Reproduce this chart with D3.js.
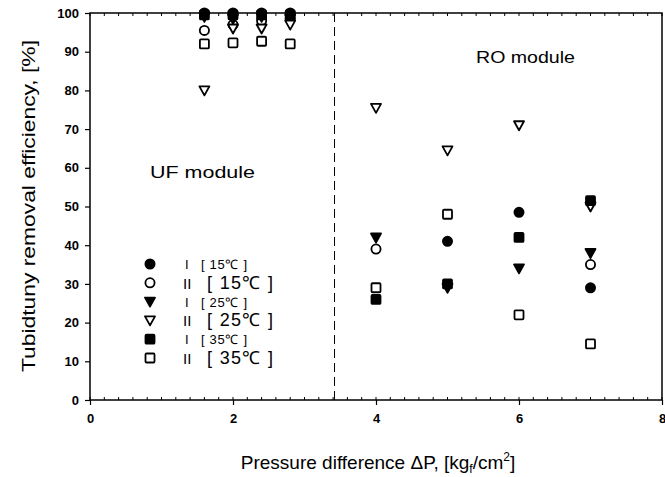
<!DOCTYPE html>
<html><head><meta charset="utf-8">
<script src="https://cdn.jsdelivr.net/npm/d3@7"></script>
<style>body{margin:0;background:#fff}svg{display:block}text{font-family:"Liberation Sans",Arial,sans-serif;fill:#000}</style>
</head><body><svg id="c" width="665" height="477"></svg>
<script>
const pressures = [1.6, 2.0, 2.4, 2.8, 4, 5, 6, 7];
const I15  = [100, 100, 100, 100, null, 41, 48.5, 29];
const II15 = [95.5, 97, 98, 98.5, 39, null, null, 35];
const I25  = [99, 98.5, 99, 98.5, 42, 29, 34, 38];
const II25 = [80, 96, 96, 97, 75.5, 64.5, 71, 50];
const I35  = [99.5, 99.5, 99.5, 99.5, 26, 30, 42, 51.5];
const II35 = [92, 92.3, 92.7, 92, 29, 48, 22, 14.5];
const seriesNames = ["I15","II15","I25","II25","I35","II35"];
const romans = ["I","II","I","II","I","II"];
const temps = ["15℃","15℃","25℃","25℃","35℃","35℃"];
const xTicks = [0,2,4,6,8];
const yTicks = [0,10,20,30,40,50,60,70,80,90,100];
const divider = 3.42;

const series = [I15,II15,I25,II25,I35,II35];
const shapes = ["circle","circle","tri","tri","square","square"];
const filled = [true,false,true,false,true,false];

const svg = d3.select("#c");
const x = d3.scaleLinear().domain([0,8]).range([90,662]);
const y = d3.scaleLinear().domain([0,100]).range([400,13]);

// frame
svg.append("rect").attr("x",x(0)).attr("y",y(100)).attr("width",x(8)-x(0)).attr("height",y(0)-y(100))
  .attr("fill","none").attr("stroke","#000").attr("stroke-width",1.5);

// axes
const xa = svg.append("g").attr("transform",`translate(0,${y(0)})`)
  .call(d3.axisBottom(x).tickValues(xTicks).tickSize(5).tickPadding(9).tickFormat(d3.format("d")));
xa.select(".domain").remove();
xa.selectAll("text").style("font-size","13px").style("font-weight","bold");
const ya = svg.append("g").attr("transform",`translate(${x(0)},0)`)
  .call(d3.axisLeft(y).tickValues(yTicks).tickSize(5).tickPadding(6));
ya.select(".domain").remove();
ya.selectAll("text").style("font-size","13px").style("font-weight","bold");
svg.selectAll(".tick line").attr("stroke","#000").attr("stroke-width",1.2);

// minor ticks on bottom and top (inward)
const minor = d3.range(0,8.01,0.2);
svg.append("g").selectAll("line").data(minor).join("line")
  .attr("x1",d=>x(d)).attr("x2",d=>x(d)).attr("y1",y(0)).attr("y2",y(0)-3).attr("stroke","#000");
svg.append("g").selectAll("line").data(minor).join("line")
  .attr("x1",d=>x(d)).attr("x2",d=>x(d)).attr("y1",y(100)).attr("y2",y(100)+3).attr("stroke","#000");

// divider
svg.append("line").attr("x1",x(divider)).attr("x2",x(divider)).attr("y1",y(100)).attr("y2",y(0))
  .attr("stroke","#000").attr("stroke-width",1).attr("stroke-dasharray","9,5");

function drawMarker(g, shape, fill, cx, cy){
  const sw = 1.8;
  const f = fill ? "#000" : "#fff";
  if(shape==="circle") g.append("circle").attr("cx",cx).attr("cy",cy).attr("r",4.6).attr("fill",f).attr("stroke","#000").attr("stroke-width",sw);
  else if(shape==="square") g.append("rect").attr("x",cx-4.5).attr("y",cy-4.5).attr("width",9).attr("height",9).attr("rx",1).attr("fill",f).attr("stroke","#000").attr("stroke-width",sw);
  else g.append("path").attr("d",`M${cx-5},${cy-4}L${cx+5},${cy-4}L${cx},${cy+5}Z`).attr("fill",f).attr("stroke","#000").attr("stroke-width",sw).attr("stroke-linejoin","round");
}

const pts = svg.append("g");
series.forEach((s,i)=>{
  s.forEach((v,j)=>{ if(v!==null) drawMarker(pts, shapes[i], filled[i], x(pressures[j]), y(v)); });
});

// annotations
svg.append("text").attr("x",150).attr("y",178).style("font-size","17px")
  .attr("textLength",105).attr("lengthAdjust","spacingAndGlyphs").text("UF module");
svg.append("text").attr("x",476).attr("y",63).style("font-size","17px")
  .attr("textLength",99).attr("lengthAdjust","spacingAndGlyphs").text("RO module");

// legend
const lg = svg.append("g").style("opacity",0.995);
seriesNames.forEach((n,i)=>{
  const ly = 264 + i*18.8;
  drawMarker(lg, shapes[i], filled[i], 150, ly);
  const big = romans[i]==="II";
  lg.append("text").attr("x", big?183:185).attr("y",ly+(big?6:5)).style("font-size", big?"15px":"13px")
    .text(romans[i]);
  lg.append("text").attr("x", big?207:201).attr("y",ly+(big?6:5)).style("font-size", big?"18px":"13px")
    .attr("textLength", big?66:46).attr("lengthAdjust","spacing")
    .attr("xml:space","preserve").text(`[ ${temps[i]} ]`);
});

// axis titles
svg.append("text").attr("transform","translate(35,206) rotate(-90)").attr("text-anchor","middle")
  .style("font-size","18px").attr("textLength",332).attr("lengthAdjust","spacingAndGlyphs")
  .text("Tubidtuny removal efficiency, [%]");
const xt = svg.append("text").attr("x",378).attr("y",469).attr("text-anchor","middle").style("font-size","19px");
xt.append("tspan").text("Pressure difference ΔP, [kg");
xt.append("tspan").attr("dy",4).style("font-size","12px").text("f");
xt.append("tspan").attr("dy",-4).text("/cm");
xt.append("tspan").attr("dy",-8).style("font-size","12px").text("2");
xt.append("tspan").attr("dy",8).text("]");
</script></body></html>
